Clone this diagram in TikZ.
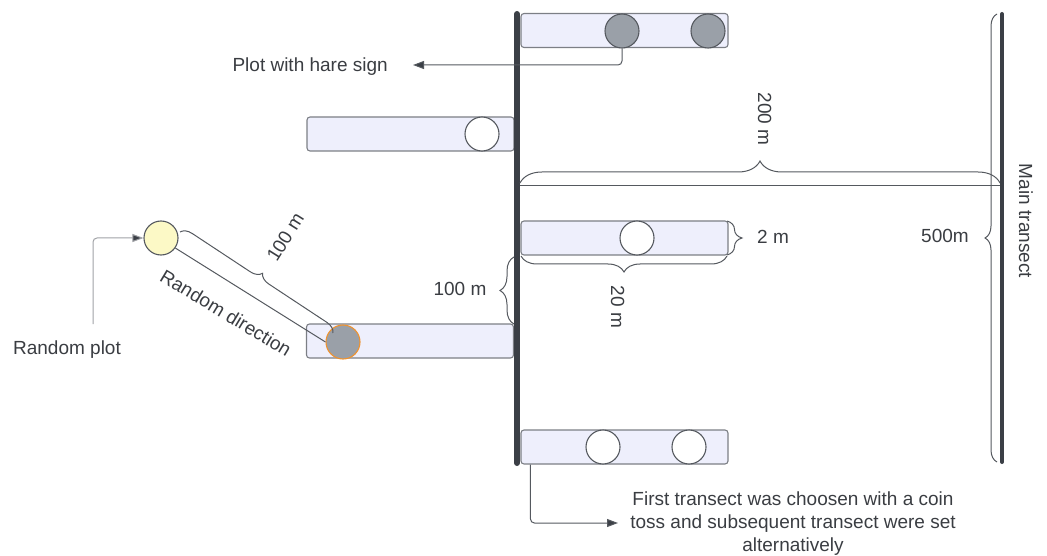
\documentclass[tikz,border=0pt]{standalone}
\usepackage{fontspec}
\setmainfont{Liberation Sans}
\usetikzlibrary{decorations.pathreplacing,arrows.meta,calc}
\definecolor{dark}{HTML}{3B3F46}
\definecolor{boxfill}{HTML}{EEEFFC}
\definecolor{boxline}{HTML}{7C7F85}
\definecolor{circline}{HTML}{55595F}
\definecolor{grayc}{HTML}{9AA0A8}
\definecolor{yell}{HTML}{FCF9C6}
\definecolor{orng}{HTML}{EF9330}
\definecolor{connc}{HTML}{55595F}
\definecolor{lightc}{HTML}{A0A2A6}
\definecolor{txt}{HTML}{3A3D42}
\begin{document}
\begin{tikzpicture}[x=1pt,y=-1pt,
  plotbox/.style={draw=boxline, fill=boxfill, rounded corners=3pt, line width=1.1pt, minimum width=207pt, minimum height=34pt, inner sep=0pt},
  plotc/.style={circle, draw=circline, line width=1.1pt, minimum size=34pt, inner sep=0pt},
  harec/.style={plotc, fill=grayc},
  emptyc/.style={plotc, fill=white},
  lbl/.style={font=\fontsize{19}{23}\selectfont, text=txt, inner sep=0pt, text height=13.6pt, text depth=0pt},
  conn/.style={draw=connc, line width=1pt, rounded corners=4pt, -{Triangle[length=11pt,width=8pt,fill=dark]}},
  brc/.style={draw=connc, line width=1pt, decorate, decoration={brace, amplitude=#1}},
  mainline/.style={draw=dark, line cap=round}
]
\useasboundingbox (0,0) rectangle (1047,556);

% plots
\node[plotbox] (P1) at (624.5,30.5) {};
\node[plotbox] (P2) at (410.5,134) {};
\node[plotbox] (P3) at (624.5,238) {};
\node[plotbox] (P4) at (410,341) {};
\node[plotbox] (P5) at (624.5,447) {};

\node[harec] (c1a) at (622,31) {};
\node[harec] (c1b) at (708,31) {};
\node[emptyc] (c2) at (482,134) {};
\node[emptyc] (c3) at (637,238) {};
\node[plotc, fill=grayc, draw=orng] (c4) at (343,342) {};
\node[emptyc] (c5a) at (603,447) {};
\node[emptyc] (c5b) at (689,447) {};
\node[plotc, fill=yell] (yel) at (161,238) {};

% main transects
\coordinate (Ltop) at (517,14);
\coordinate (Lbot) at (517,463);
\coordinate (Rtop) at (1002,14);
\coordinate (Rbot) at (1002,462);
\draw[mainline, line width=6pt] (Ltop) -- (Lbot);

% 200 m
\coordinate (h1) at (520,186);
\coordinate (h2) at (1000,186);
\draw[draw=connc, line width=1pt] (h1) -- (h2);
\draw[brc=22] (520,183) -- (1000,183);
\node[lbl, rotate=-90] (l200) at (765,119) {200 m};

% 500 m
\draw[brc=12] (997,462) -- (997,14);
\node[lbl] (l500) at (945,236) {500m};
\draw[mainline, line width=4pt] (Rtop) -- (Rbot);
\node[lbl, rotate=-90] (lmain) at (1026,221) {Main transect};

% 2 m and 20 m
\draw[brc=15] (727,221) -- (727,255);
\node[lbl, anchor=west] (l2) at (757,237) {2 m};
\draw[brc=16] (727,256) -- (521,256);
\node[lbl, rotate=-90] (l20) at (618,307) {20 m};

% 100 m vertical
\draw[brc=14] (514,324) -- (514,257);
\node[lbl] (l100v) at (460,289) {100 m};

% random direction
\draw[draw=connc, line width=1pt] (yel.-35) -- (c4.west);
\draw[brc=11] (180,232) -- (333,333);
\node[lbl, rotate=58] (l100d) at (285,237) {100 m};
\node[lbl, rotate=-31] (lrd) at (226,313) {Random direction};

% random plot
\node[lbl] (lrp) at (67,348) {Random plot};
\coordinate (rpStart) at (93,324);
\draw[conn, draw=lightc] (rpStart) |- (yel.west);

% hare sign
\node[lbl, anchor=east] (lhare) at (388,65) {Plot with hare sign};
\coordinate (hareTip) at (413,65);
\draw[conn] (c1a.south) |- (hareTip);

% coin toss note
\node[font=\fontsize{19}{23}\selectfont, text=txt, inner sep=0pt, align=center, anchor=north] (lnote) at (793,492)
  {First transect was choosen with a coin\\toss and subsequent transect were set\\alternatively};
\coordinate (noteTip) at (618,523);
\draw[conn] ($(P5.south west)+(10,0)$) |- (noteTip);
\end{tikzpicture}
\end{document}
